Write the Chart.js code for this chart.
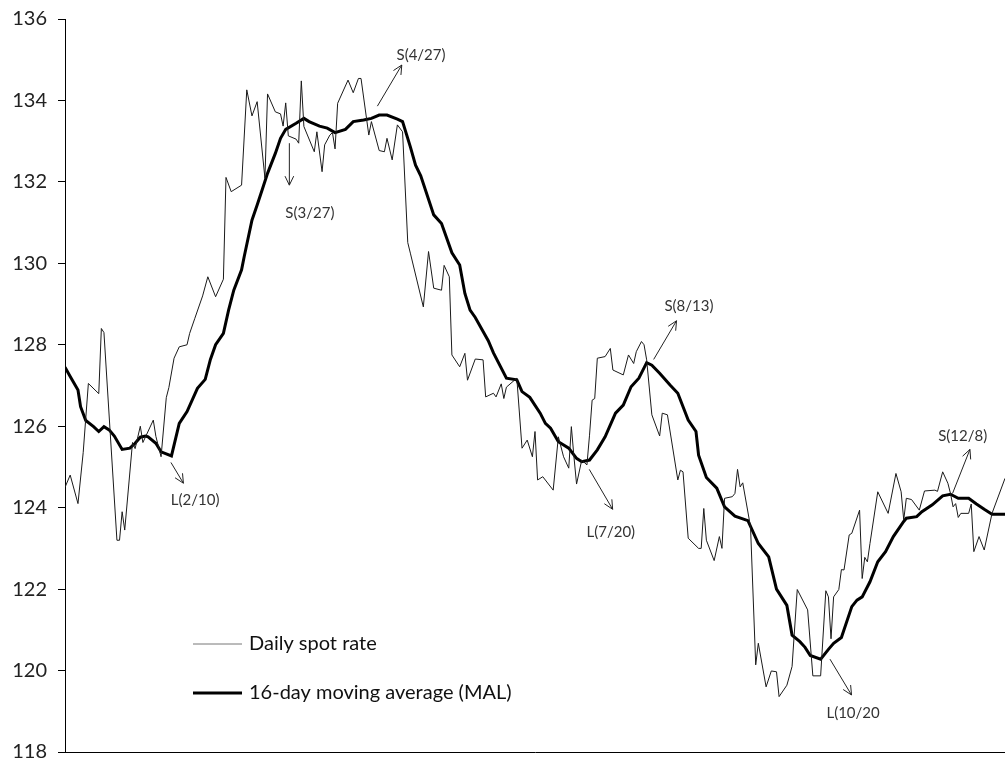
<!DOCTYPE html>
<html>
<head>
<meta charset="utf-8">
<script src="https://cdn.jsdelivr.net/npm/chart.js@4/dist/chart.umd.min.js"></script>
<style>
  html, body { margin: 0; padding: 0; background: #fff; }
  #wrap { width: 1005px; height: 764px; }
</style>
</head>
<body>
<div id="wrap"><canvas id="chart" width="1005" height="764"></canvas></div>
<script>
// day of year for each daily quote, and the rate
const spotDays = [1, 3, 6, 8, 10, 14, 15, 16, 21, 22, 23, 24, 27, 28, 30, 31, 35, 36, 38, 40, 41, 43, 45, 48, 49, 51, 54,
  56, 59, 62, 63, 65, 69, 71, 73, 75, 78, 79, 82, 84, 85, 86, 87, 90, 91, 92, 93, 97, 98, 100, 101, 103, 104, 105, 106,
  110, 112, 114, 115, 118, 119, 122, 124, 125, 127, 129, 131, 133, 134, 139, 141, 143, 146, 147, 149, 150, 153, 155, 156,
  159, 162, 163, 166, 167, 169, 170, 171, 175, 177, 179, 181, 182, 183, 185, 189, 191, 193, 195, 196, 197, 198, 200, 202,
  203, 204, 205, 206, 209, 211, 212, 216, 218, 220, 221, 223, 224, 225, 227, 230, 231, 233, 237, 238, 239, 241, 245, 246,
  247, 248, 251, 253, 254, 255, 258, 259, 260, 261, 262, 265, 267, 268, 271, 273, 275, 276, 279, 281, 283, 287, 289, 292,
  294, 295, 296, 297, 299, 300, 301, 303, 304, 307, 308, 309, 310, 311, 314, 318, 321, 323, 324, 325, 327, 330, 332, 336,
  337, 339, 341, 342, 343, 344, 345, 346, 349, 350, 351, 353, 355, 358, 363];
const spotRates = [124.5, 124.8, 124.1, 125.35, 127.05, 126.8, 128.4, 128.3, 123.2, 123.2, 123.9, 123.45, 125.6, 125.45,
  126.0, 125.6, 126.15, 125.75, 125.25, 126.7, 126.95, 127.67, 127.95, 128.0, 128.28, 128.65, 129.2,
  129.67, 129.18, 129.61, 132.11, 131.76, 131.92, 134.26, 133.62, 133.97, 132.09, 134.16, 133.72, 133.67, 133.37, 133.94,
  133.13, 133.05, 132.95, 134.48, 133.36, 132.74, 133.23, 132.25, 132.91, 133.15, 133.21, 132.81, 133.93,
  134.5, 134.19, 134.54, 134.54, 133.15, 133.48, 132.77, 132.74, 133.07, 132.54, 133.4, 133.23, 130.51, 130.25, 128.93,
  130.29, 129.39, 129.34, 129.95, 129.67, 127.75, 127.46, 127.79, 127.13,
  127.65, 127.63, 126.72, 126.81, 126.72, 127.04, 126.68, 126.96, 127.18, 125.46, 125.66, 125.25, 125.87, 124.68, 124.76,
  124.43, 125.74, 125.25, 124.97, 125.99, 125.25, 124.58, 125.17, 125.05,
  125.78, 126.64, 126.68, 127.67, 127.71, 127.91, 127.38, 127.26, 127.75, 127.54, 127.83, 128.08, 128.0, 127.63, 126.28,
  125.76, 126.32, 126.28, 124.68, 124.92, 124.88, 123.25, 123.0, 123.0,
  123.98, 123.2, 122.7, 123.29, 123.0, 124.23, 124.27, 124.35, 124.94, 124.51, 124.61, 123.53, 120.14, 120.67, 119.6,
  119.99, 119.97, 119.36, 119.64, 120.1, 121.99, 121.49, 119.87, 119.87,
  121.96, 121.81, 120.78, 121.81, 121.99, 122.48, 122.47, 123.33, 123.37, 123.94, 122.26, 122.78, 122.67, 123.12, 124.39,
  123.86, 124.84, 124.39, 123.7, 124.23, 124.2, 123.94, 124.41, 124.43,
  124.4, 124.88, 124.6, 124.35, 124.02, 124.1, 123.76, 123.86, 123.86, 124.09, 122.92, 123.29, 122.96, 123.86, 124.72];

// 16-day moving average
const maDays = [1, 3, 6, 7, 9, 12, 14, 16, 18, 20, 23, 26, 28, 30, 32, 33, 36, 38, 42, 45, 48, 52, 55, 57, 59, 62, 64, 66,
  69, 70, 73, 75, 77, 79, 82, 84, 86, 90, 93, 95, 99, 102, 105, 109, 112, 116, 119, 122, 125, 129, 131, 134, 136, 138,
  143, 146, 150, 153, 155, 157, 159, 164, 166, 171, 175, 177, 180, 184, 186, 188, 191, 195, 198, 200, 203, 206, 209, 213,
  216, 219, 222, 225, 227, 230, 234, 237, 241, 244, 245, 248, 252, 255, 259, 264, 268, 272, 275, 279, 281, 284, 286, 288,
  292, 295, 297, 300, 304, 306, 308, 311, 314, 317, 320, 324, 325, 329, 331, 335, 339, 342, 345, 349, 352, 355, 358, 363];
const maRates = [127.45, 127.22, 126.89, 126.48, 126.14, 125.99, 125.87, 125.99, 125.91, 125.76, 125.43, 125.46, 125.58,
  125.73, 125.76, 125.74, 125.58, 125.37, 125.27, 126.07, 126.36, 126.93, 127.15, 127.64, 128.0, 128.28, 128.85, 129.34,
  129.84, 130.16, 131.06, 131.43, 131.82, 132.21, 132.7, 133.07, 133.29, 133.44, 133.56, 133.48, 133.37, 133.32, 133.21,
  133.29, 133.48, 133.52, 133.56, 133.64, 133.64, 133.54, 133.48, 132.86, 132.41, 132.15,
  131.19, 130.98, 130.26, 129.96, 129.26, 128.85, 128.67, 128.1, 127.8, 127.18, 127.14, 126.85, 126.71, 126.32, 126.07,
  125.95, 125.62, 125.46, 125.21, 125.13, 125.17, 125.42, 125.74, 126.32,
  126.52, 126.97, 127.18, 127.56, 127.5, 127.3, 127.01, 126.81, 126.15, 125.87, 125.29, 124.74, 124.48, 124.02, 123.79,
  123.68, 123.12, 122.79, 122.0, 121.6, 120.87, 120.71, 120.57, 120.37,
  120.28, 120.52, 120.67, 120.81, 121.57, 121.73, 121.81, 122.18, 122.67, 122.92, 123.29, 123.66, 123.74, 123.78, 123.9,
  124.07, 124.29, 124.33, 124.23, 124.23, 124.09, 123.96, 123.84, 123.84];

const yTicks = [118, 120, 122, 124, 126, 128, 130, 132, 134, 136];

// trading signals: text, arrow start (day, rate), arrow end (day, rate), label centre (day, rate)
const signalLabels = ["L(2/10)", "S(3/27)", "S(4/27)", "L(7/20)", "S(8/13)", "L(10/20", "S(12/8)"];
const signalFrom = [[41.8, 125.11], [87.4, 132.95], [121.3, 133.86], [202.9, 124.94], [227.7, 127.64], [295.6, 120.28], [342.8, 124.35]];
const signalTo = [[46.6, 124.6], [87.4, 131.92], [130.7, 134.87], [211.9, 123.96], [236.5, 128.59], [303.9, 119.4], [349.5, 125.43]];
const signalText = [[51.1, 124.19], [95.3, 131.24], [138.1, 135.1], [211.2, 123.41], [241.3, 128.95], [304.5, 118.95], [346.7, 125.76]];

const seriesNames = ["Daily spot rate", "16-day moving average (MAL)"];

const FONT = "Lato, 'DejaVu Sans', sans-serif";

const toPoints = (xs, ys) => xs.map((x, i) => ({ x, y: ys[i] }));

const signals = {
  id: "signals",
  afterDatasetsDraw(chart) {
    const { ctx, scales: { x, y } } = chart;
    ctx.save();
    ctx.strokeStyle = "#222";
    ctx.fillStyle = "#333";
    ctx.lineWidth = 1;
    ctx.font = "15px " + FONT;
    ctx.textAlign = "center";
    ctx.textBaseline = "middle";
    signalLabels.forEach((label, i) => {
      const x1 = x.getPixelForValue(signalFrom[i][0]);
      const y1 = y.getPixelForValue(signalFrom[i][1]);
      const x2 = x.getPixelForValue(signalTo[i][0]);
      const y2 = y.getPixelForValue(signalTo[i][1]);
      const a = Math.atan2(y2 - y1, x2 - x1);
      ctx.beginPath();
      ctx.moveTo(x1, y1);
      ctx.lineTo(x2, y2);
      ctx.moveTo(x2 - 10 * Math.cos(a - 0.45), y2 - 10 * Math.sin(a - 0.45));
      ctx.lineTo(x2, y2);
      ctx.lineTo(x2 - 10 * Math.cos(a + 0.45), y2 - 10 * Math.sin(a + 0.45));
      ctx.stroke();
      ctx.fillText(label, x.getPixelForValue(signalText[i][0]), y.getPixelForValue(signalText[i][1]));
    });

    // legend box, lower left of the plot
    const lx = chart.chartArea.left + 128;
    const ly = chart.chartArea.bottom - 108;
    ctx.textAlign = "left";
    ctx.font = "20px " + FONT;
    ctx.fillStyle = "#111";
    ctx.strokeStyle = "#777";
    ctx.lineWidth = 1;
    ctx.beginPath();
    ctx.moveTo(lx, ly);
    ctx.lineTo(lx + 49, ly);
    ctx.stroke();
    ctx.fillText(seriesNames[0], lx + 56, ly);
    ctx.strokeStyle = "#000";
    ctx.lineWidth = 3;
    ctx.beginPath();
    ctx.moveTo(lx, ly + 49);
    ctx.lineTo(lx + 49, ly + 49);
    ctx.stroke();
    ctx.fillText(seriesNames[1], lx + 56, ly + 49);
    ctx.restore();
  }
};

new Chart(document.getElementById("chart"), {
  type: "line",
  data: {
    datasets: [
      {
        label: seriesNames[0],
        data: toPoints(spotDays, spotRates),
        borderColor: "#1a1a1a",
        borderWidth: 1,
        pointRadius: 0,
        tension: 0,
        fill: false
      },
      {
        label: seriesNames[1],
        data: toPoints(maDays, maRates),
        borderColor: "#000",
        borderWidth: 3,
        pointRadius: 0,
        tension: 0,
        fill: false
      }
    ]
  },
  options: {
    responsive: false,
    animation: false,
    layout: { padding: { top: 19, right: 0, bottom: 12, left: 0 } },
    plugins: { legend: { display: false }, tooltip: { enabled: false } },
    scales: {
      x: {
        type: "linear",
        min: 1,
        max: 363,
        ticks: { display: false },
        grid: { display: false, drawTicks: false },
        border: { display: true, color: "#000", width: 1 },
        afterFit(scale) {
          scale.height = 0
          scale.paddingLeft = scale.paddingRight = 0
        }
      },
      y: {
        min: 118,
        max: 136,
        afterBuildTicks(scale) { scale.ticks = yTicks.map(v => ({ value: v })) },
        ticks: { color: "#222", padding: 11, font: { family: FONT, size: 20 } },
        grid: { drawOnChartArea: false, drawTicks: true, tickLength: 7, color: "#000" },
        border: { display: true, color: "#000", width: 1 },
        afterFit(scale) {
          scale.width = 65
          scale.paddingTop = scale.paddingBottom = 0
        }
      }
    }
  },
  plugins: [signals]
});
</script>
</body>
</html>
